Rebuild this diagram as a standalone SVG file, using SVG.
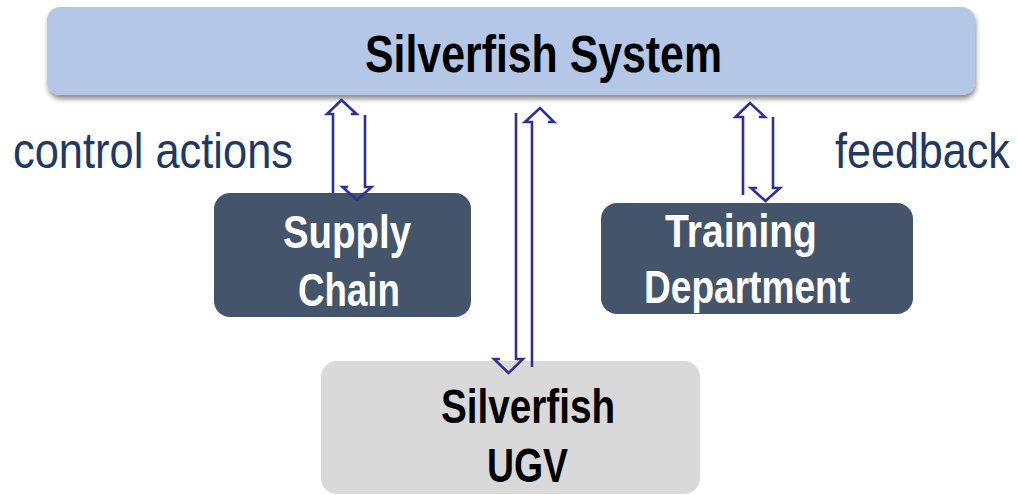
<svg xmlns="http://www.w3.org/2000/svg" width="1017" height="495" viewBox="0 0 1017 495">
  <style>
    .title { font-family: "Liberation Sans", Arial, sans-serif; font-weight: bold; }
    .label { font-family: "Liberation Sans", Arial, sans-serif; fill: #203864; font-size: 50px; }
    .link { fill: none; stroke: #2E3192; stroke-width: 2.6; stroke-linejoin: miter; }
  </style>
  <defs>
    <filter id="shadow" x="-5%" y="-20%" width="110%" height="150%">
      <feGaussianBlur in="SourceAlpha" stdDeviation="2.5"/>
      <feOffset dx="1" dy="4" result="b"/>
      <feComponentTransfer><feFuncA type="linear" slope="0.45"/></feComponentTransfer>
      <feMerge><feMergeNode/><feMergeNode in="SourceGraphic"/></feMerge>
    </filter>
  </defs>
  <rect width="1017" height="495" fill="#ffffff"/>

  <g id="silverfish-system">
    <rect x="47" y="7" width="928" height="88" rx="13" fill="#B4C7E7" filter="url(#shadow)"/>
    <text class="title" x="365" y="71.5" font-size="51" fill="#000000" textLength="357" lengthAdjust="spacingAndGlyphs">Silverfish System</text>
  </g>

  <g id="supply-chain">
    <rect x="214" y="193" width="257" height="124" rx="16" fill="#44546A"/>
    <text class="title" x="283" y="248" font-size="47" fill="#ffffff" textLength="128" lengthAdjust="spacingAndGlyphs">Supply</text>
    <text class="title" x="298" y="306" font-size="47" fill="#ffffff" textLength="102" lengthAdjust="spacingAndGlyphs">Chain</text>
  </g>

  <g id="training-department">
    <rect x="601" y="203" width="312" height="111" rx="16" fill="#44546A"/>
    <text class="title" x="665" y="247" font-size="47" fill="#ffffff" textLength="152" lengthAdjust="spacingAndGlyphs">Training</text>
    <text class="title" x="644" y="303" font-size="47" fill="#ffffff" textLength="206" lengthAdjust="spacingAndGlyphs">Department</text>
  </g>

  <g id="silverfish-ugv">
    <rect x="321" y="361" width="379" height="133" rx="16" fill="#D9D9D9"/>
    <text class="title" x="441" y="423" font-size="48" fill="#000000" textLength="174" lengthAdjust="spacingAndGlyphs">Silverfish</text>
    <text class="title" x="487" y="482" font-size="48" fill="#000000" textLength="81" lengthAdjust="spacingAndGlyphs">UGV</text>
  </g>

  <g id="labels">
    <text class="label" x="13" y="168" textLength="280" lengthAdjust="spacingAndGlyphs">control actions</text>
    <!-- condensed horizontally so the word ends just inside the right edge -->
    <text class="label" transform="translate(835,168) scale(0.862,1)" x="0" y="0">feedback</text>
  </g>

  <g id="connectors">
    <!-- Supply Chain: up (feedback) and down (control) -->
    <polyline class="link" points="333,193 333,114 327,114 341.5,100 356.5,114 351,114"/>
    <polyline class="link" points="365,115 365,187 371.5,187 357,200 342.5,187 348,187"/>
    <!-- Silverfish UGV -->
    <polyline class="link" points="516,113 516,359 523,359 508.5,373 494,359 500,359"/>
    <polyline class="link" points="532,367 532,122 525,122 540,108 554,122 548,122"/>
    <!-- Training Department -->
    <polyline class="link" points="743,195 743,117 735.5,117 750,103 765,117 759,117"/>
    <polyline class="link" points="773,117 773,188 780,188 765.5,201 751,188 757,188"/>
  </g>
</svg>
